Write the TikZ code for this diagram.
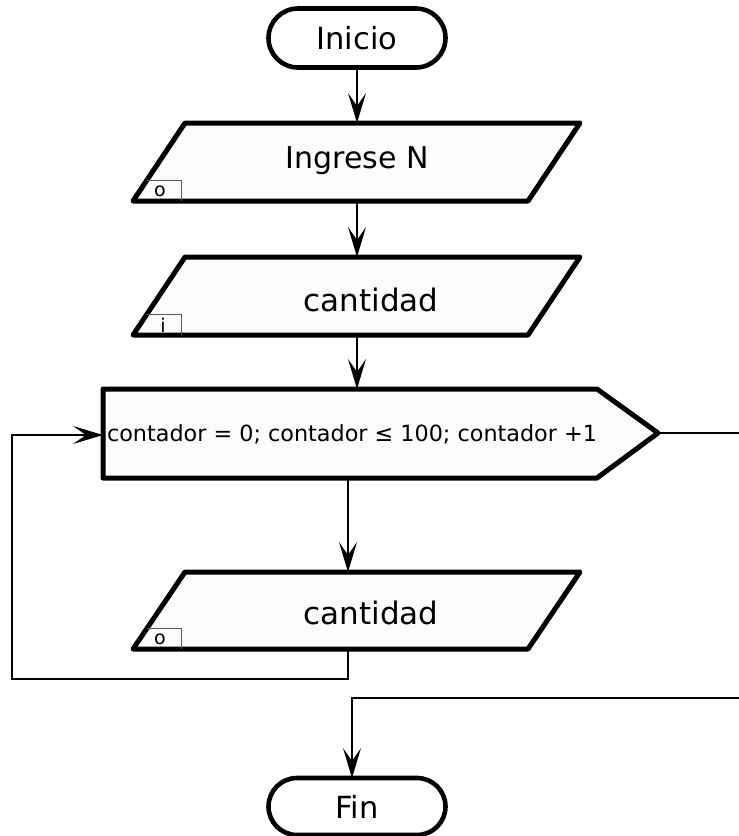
\documentclass[tikz,border=0pt]{standalone}
\usepackage{fontspec}
\setmainfont{DejaVu Sans}
\usetikzlibrary{shapes.misc,arrows.meta}
\tikzset{
  term/.style={rounded rectangle, draw=black, line width=4.6pt, fill=white, minimum width=177pt, minimum height=59pt, inner sep=0pt, font=\fontsize{30.5}{36}\selectfont},
  shapeline/.style={draw=black, line width=5pt, line join=round, fill=black!1},
  conn/.style={draw=black, line width=1.6pt},
  arr/.style={conn, -{Stealth[length=30pt,width=18pt,inset=13pt]}},
  tag/.style={draw=black!65, line width=1pt},
  tagtxt/.style={font=\fontsize{19}{22}\selectfont, inner sep=0pt},
  bigtxt/.style={font=\fontsize{31}{36}\selectfont, inner sep=0pt},
  midtxt/.style={font=\fontsize{30}{35}\selectfont, inner sep=0pt},
  smalltxt/.style={font=\fontsize{22.3}{27}\selectfont, inner sep=0pt}
}
\begin{document}
\begin{tikzpicture}[x=1pt,y=-1pt]
\useasboundingbox (0,0) rectangle (739,836);
% Inicio
\node[term] (inicio) at (357,38) {Inicio};
% Parallelogram 1
\coordinate (p1n) at (357,123);
\coordinate (p1s) at (357,201);
\path[shapeline] (185,123) -- (580,123) -- (528,201) -- (133,201) -- cycle;
\node[midtxt] (p1) at (357,161) {Ingrese N};
\draw[tag] (147,180) -- (181,180) -- (181,201);
\node[tagtxt] (p1tag) at (160,191) {o};
% Parallelogram 2
\coordinate (p2n) at (357,257);
\coordinate (p2s) at (357,335);
\path[shapeline] (185,257) -- (580,257) -- (528,335) -- (133,335) -- cycle;
\node[bigtxt] (p2) at (371,300) {cantidad};
\draw[tag] (147,314) -- (181,314) -- (181,335);
\node[tagtxt] (p2tag) at (163,325) {i};
% Loop box
\coordinate (ln) at (357,389);
\coordinate (ls) at (348,478);
\coordinate (lw) at (103,435);
\coordinate (le) at (658,433);
\path[shapeline] (103,389) -- (597,389) -- (658,433) -- (597,478) -- (103,478) -- cycle;
\node[smalltxt] (loop) at (352,434) {contador = 0; contador ≤ 100; contador +1};
% Parallelogram 3
\coordinate (p3n) at (348,572);
\coordinate (p3s) at (348,649);
\path[shapeline] (185,572) -- (580,572) -- (528,649) -- (133,649) -- cycle;
\node[bigtxt] (p3) at (371,613) {cantidad};
\draw[tag] (147,628) -- (181,628) -- (181,649);
\node[tagtxt] (p3tag) at (160,639) {o};
% Fin
\node[term, minimum height=57pt] (fin) at (357,806.5) {Fin};
% connectors
\draw[arr] (inicio.south) -- (p1n);
\draw[arr] (p1s) -- (p2n);
\draw[arr] (p2s) -- (ln);
\draw[arr] (ls) -- (p3n);
\coordinate (c1) at (348,679);
\coordinate (c2) at (12,679);
\coordinate (c3) at (12,435);
\draw[arr] (p3s) -- (c1) -- (c2) -- (c3) -- (lw);
\coordinate (rexit) at (739,433);
\draw[conn] (le) -- (rexit);
\coordinate (rin) at (739,698);
\coordinate (d1) at (352,698);
\coordinate (finn) at (352,778);
\draw[arr] (rin) -- (d1) -- (finn);
\end{tikzpicture}
\end{document}
